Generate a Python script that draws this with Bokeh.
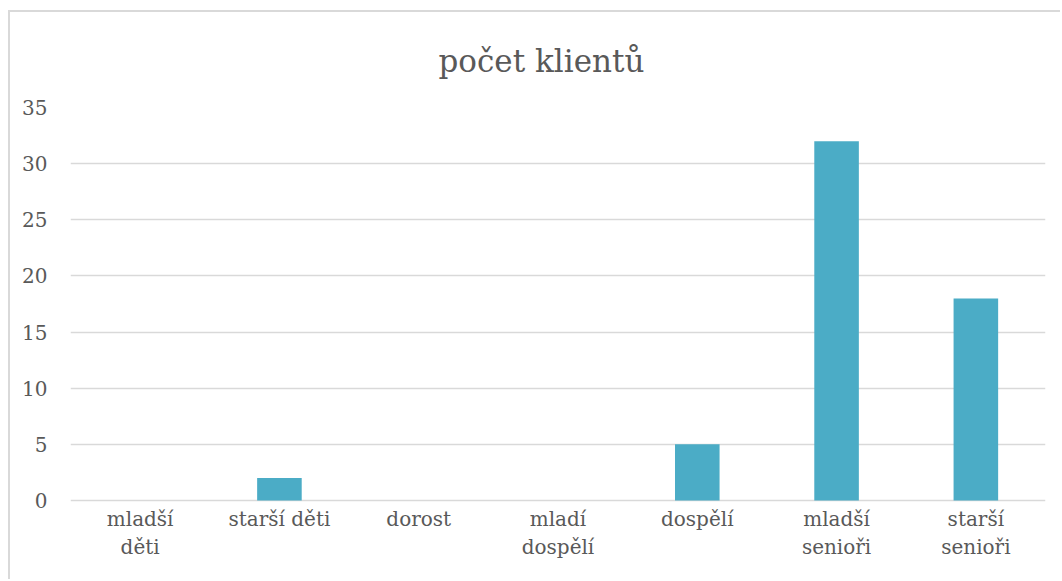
from bokeh.plotting import figure
from bokeh.models import ColumnDataSource, FactorRange, FixedTicker, Range1d
from bokeh.core.properties import value
from bokeh.embed import file_html
from bokeh.resources import INLINE

categories = ["mladší děti", "starší děti", "dorost", "mladí dospělí", "dospělí", "mladší senioři", "starší senioři"]
tick_labels = ["mladší\nděti", "starší děti", "dorost", "mladí\ndospělí", "dospělí", "mladší\nsenioři", "starší\nsenioři"]
values = [0, 2, 0, 0, 5, 32, 18]
y_ticks = [0, 5, 10, 15, 20, 25, 30, 35]

FONT = "DejaVu Serif"
GREY = "#595959"

src = ColumnDataSource(dict(cat=categories, val=values, lab=tick_labels, base=[0] * len(categories)))

# frame spans 474 px; 0..35 occupies the top 393 px, the rest hosts the category labels
y_top = 35
y_bottom = -(474 / 393 * y_top - y_top)

p = figure(width=1052, height=569, output_backend="svg", toolbar_location=None,
           x_range=FactorRange(*categories, range_padding=0), y_range=Range1d(y_bottom, y_top),
           title="počet klientů", min_border_left=60, min_border_right=17,
           min_border_top=95, min_border_bottom=0,
           styles={"margin-left": "8px", "margin-top": "10px",
                   "border-left": "2px solid #D9D9D9", "border-top": "2px solid #D9D9D9",
                   "border-right": "none", "border-bottom": "none"})

p.vbar(x="cat", top="val", width=0.32, source=src, color="#4BACC6", line_color=None)

p.text(x="cat", y="base", text="lab", source=src, y_offset=6,
       text_align="center", text_baseline="top", text_font=value(FONT),
       text_font_size="20px", text_color=GREY, text_line_height=1.2)

p.title.align = "left"
p.title.offset = 368
p.title.text_font = FONT
p.title.text_font_size = "31px"
p.title.text_font_style = "normal"
p.title.text_color = GREY
p.title.standoff = 57

p.outline_line_color = None
p.border_fill_color = "white"

p.xaxis.visible = False
p.xgrid.grid_line_color = None
p.ygrid.grid_line_color = "#D9D9D9"
p.ygrid.grid_line_width = 1.5
p.yaxis.ticker = FixedTicker(ticks=y_ticks)

p.yaxis.axis_line_color = None
p.yaxis.major_tick_line_color = None
p.yaxis.minor_tick_line_color = None
p.yaxis.major_label_text_font = FONT
p.yaxis.major_label_text_font_size = "20px"
p.yaxis.major_label_text_color = GREY
p.yaxis.major_label_standoff = 17

open("out.html", "w").write(file_html(p, INLINE))
